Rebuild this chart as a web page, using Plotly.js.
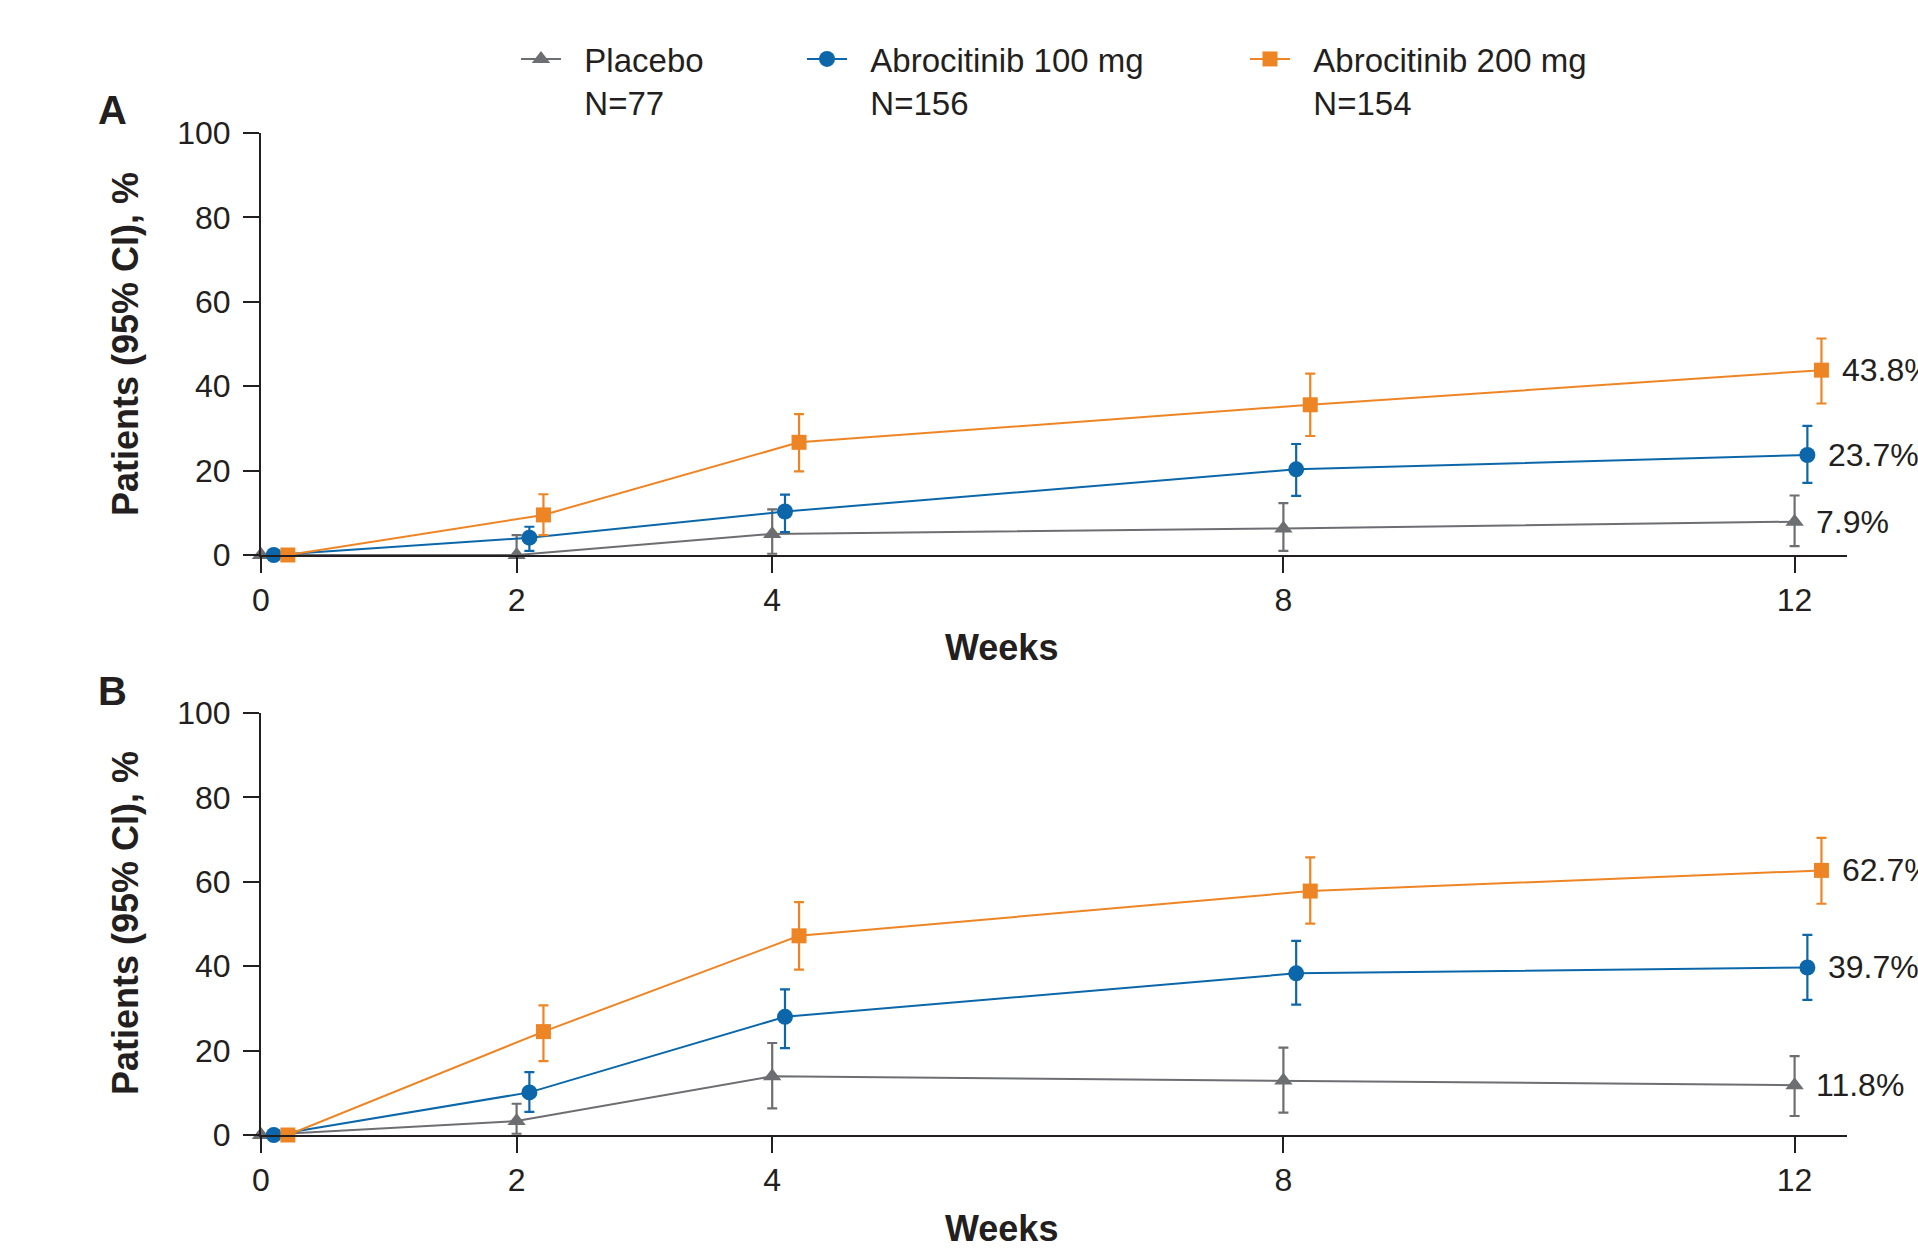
<!DOCTYPE html>
<html>
<head>
<meta charset="utf-8">
<script src="https://cdn.plot.ly/plotly-3.0.1.min.js"></script>
<style>html,body{margin:0;padding:0;background:#fff;}#chart{width:1918px;height:1249px;}</style>
</head>
<body>
<div id="chart"></div>
<script>
// ---- data ----
const weeks = [0, 2, 4, 8, 12];
const xTickVals = [0, 2, 4, 8, 12];
const yTickVals = [0, 20, 40, 60, 80, 100];
const seriesNames = ["Placebo", "Abrocitinib 100 mg", "Abrocitinib 200 mg"];
const seriesN = ["N=77", "N=156", "N=154"];

// Panel A
const placeboA     = [0, 0,   5.0, 6.3, 7.9];
const placeboA_hi  = [0, 4.7, 10.8, 12.3, 14.1];
const placeboA_lo  = [0, 0,   0.3, 1.0, 2.1];
const abro100A     = [0, 4.1, 10.3, 20.3, 23.7];
const abro100A_hi  = [0, 6.7, 14.3, 26.3, 30.6];
const abro100A_lo  = [0, 1.0, 5.4, 14.0, 17.1];
const abro200A     = [0, 9.5, 26.7, 35.6, 43.8];
const abro200A_hi  = [0, 14.4, 33.4, 43.0, 51.3];
const abro200A_lo  = [0, 4.7, 19.8, 28.2, 35.9];

// Panel B
const placeboB     = [0, 3.3, 13.9, 12.9, 11.8];
const placeboB_hi  = [0, 7.4, 21.8, 20.7, 18.7];
const placeboB_lo  = [0, 0.3, 6.3, 5.3, 4.5];
const abro100B     = [0, 10.1, 28.0, 38.3, 39.7];
const abro100B_hi  = [0, 14.9, 34.5, 46.0, 47.4];
const abro100B_lo  = [0, 5.5, 20.6, 30.9, 32.0];
const abro200B     = [0, 24.5, 47.2, 57.8, 62.7];
const abro200B_hi  = [0, 30.7, 55.2, 65.8, 70.4];
const abro200B_lo  = [0, 17.5, 39.2, 50.1, 54.8];

const labelsA = ["7.9%", "23.7%", "43.8%"];
const labelsB = ["11.8%", "39.7%", "62.7%"];

// ---- styling ----
const colors = ["#6D6E71", "#0B67A9", "#EE8525"];
const symbols = ["triangle-up", "circle", "square"];
const markerSizes = [16, 16, 15];
const xOffsets = [0, 0.1, 0.21];
const textColor = "#231F20";
const FONT = "Arial, 'Liberation Sans', Helvetica, sans-serif";
const PAD = "\u00a0\u00a0";

function mk(vals, hi, lo, i, xa, ya, showLegend) {
  return {
    type: "scatter", mode: "lines+markers",
    x: weeks.map(w => w + xOffsets[i]), y: vals,
    name: PAD + seriesNames[i] + "<br>" + PAD + seriesN[i],
    xaxis: xa, yaxis: ya,
    legend: ["legend", "legend2", "legend3"][i],
    showlegend: showLegend,
    cliponaxis: false,
    line: {color: colors[i], width: 2},
    marker: {color: colors[i], symbol: symbols[i], size: markerSizes[i]},
    error_y: {type: "data", symmetric: false,
      array: hi.map((h, k) => h - vals[k]),
      arrayminus: lo.map((l, k) => vals[k] - l),
      color: colors[i], thickness: 2.2, width: 5}
  };
}

const traces = [
  mk(placeboA, placeboA_hi, placeboA_lo, 0, "x", "y", true),
  mk(abro100A, abro100A_hi, abro100A_lo, 1, "x", "y", true),
  mk(abro200A, abro200A_hi, abro200A_lo, 2, "x", "y", true),
  mk(placeboB, placeboB_hi, placeboB_lo, 0, "x2", "y2", false),
  mk(abro100B, abro100B_hi, abro100B_lo, 1, "x2", "y2", false),
  mk(abro200B, abro200B_hi, abro200B_lo, 2, "x2", "y2", false)
];

const W = 1918, H = 1249;
const xDom = [261 / W, 1847 / W];
function yax(domTop, domBot) {
  return {
    domain: [1 - domBot / H, 1 - domTop / H], range: [0, 100],
    tickvals: yTickVals, ticks: "outside", ticklen: 16, tickwidth: 2, tickcolor: textColor,
    showline: true, linecolor: textColor, linewidth: 2, showgrid: false, zeroline: false,
    tickfont: {size: 32, color: textColor, family: FONT}, ticklabelstandoff: 6, fixedrange: true
  };
}
function xax(anchor) {
  return {
    domain: xDom, range: [0, 12.41], anchor: anchor,
    tickvals: xTickVals, ticks: "outside", ticklen: 16, tickwidth: 2, tickcolor: textColor,
    showline: true, linecolor: textColor, linewidth: 2, showgrid: false, zeroline: false,
    tickfont: {size: 32, color: textColor, family: FONT}, ticklabelstandoff: 0, fixedrange: true
  };
}

const annotations = [];
function pAnn(text, xpx, ypx, size, bold, angle) {
  annotations.push({xref: "paper", yref: "paper", x: xpx / W, y: 1 - ypx / H,
    xanchor: "center", yanchor: "middle", showarrow: false, textangle: angle || 0,
    text: bold ? "<b>" + text + "</b>" : text, font: {size: size, color: textColor, family: FONT}});
}
pAnn("A", 112, 110, 40, true);
pAnn("B", 112, 691, 40, true);
pAnn("Weeks", 1001, 648, 36, true);
pAnn("Weeks", 1001, 1228, 36, true);
pAnn("Patients (95% CI), %", 126, 344, 36, true, -90);
pAnn("Patients (95% CI), %", 126, 923, 36, true, -90);

const lastA = [placeboA, abro100A, abro200A];
const lastB = [placeboB, abro100B, abro200B];
for (let i = 0; i < 3; i++) {
  annotations.push({xref: "x", yref: "y", x: 12 + xOffsets[i], y: lastA[i][4], text: labelsA[i],
    xanchor: "left", yanchor: "middle", xshift: 19, showarrow: false,
    font: {size: 32, color: textColor, family: FONT}});
  annotations.push({xref: "x2", yref: "y2", x: 12 + xOffsets[i], y: lastB[i][4], text: labelsB[i],
    xanchor: "left", yanchor: "middle", xshift: 19, showarrow: false,
    font: {size: 32, color: textColor, family: FONT}});
}

function leg(xpx) {
  return {x: xpx / W, y: 1 - 31 / H, xanchor: "left", yanchor: "top", orientation: "h",
    bgcolor: "rgba(0,0,0,0)", borderwidth: 0, valign: "top", itemwidth: 40,
    font: {size: 33, color: textColor, family: FONT}};
}

const layout = {
  width: W, height: H, margin: {l: 0, r: 0, t: 0, b: 0},
  paper_bgcolor: "#fff", plot_bgcolor: "#fff",
  font: {family: FONT, color: textColor},
  xaxis: xax("y"), yaxis: yax(133, 555),
  xaxis2: xax("y2"), yaxis2: yax(713, 1135),
  legend: leg(516), legend2: leg(802), legend3: leg(1245),
  annotations: annotations
};

Plotly.newPlot("chart", traces, layout, {displayModeBar: false, staticPlot: true});
</script>
</body>
</html>
